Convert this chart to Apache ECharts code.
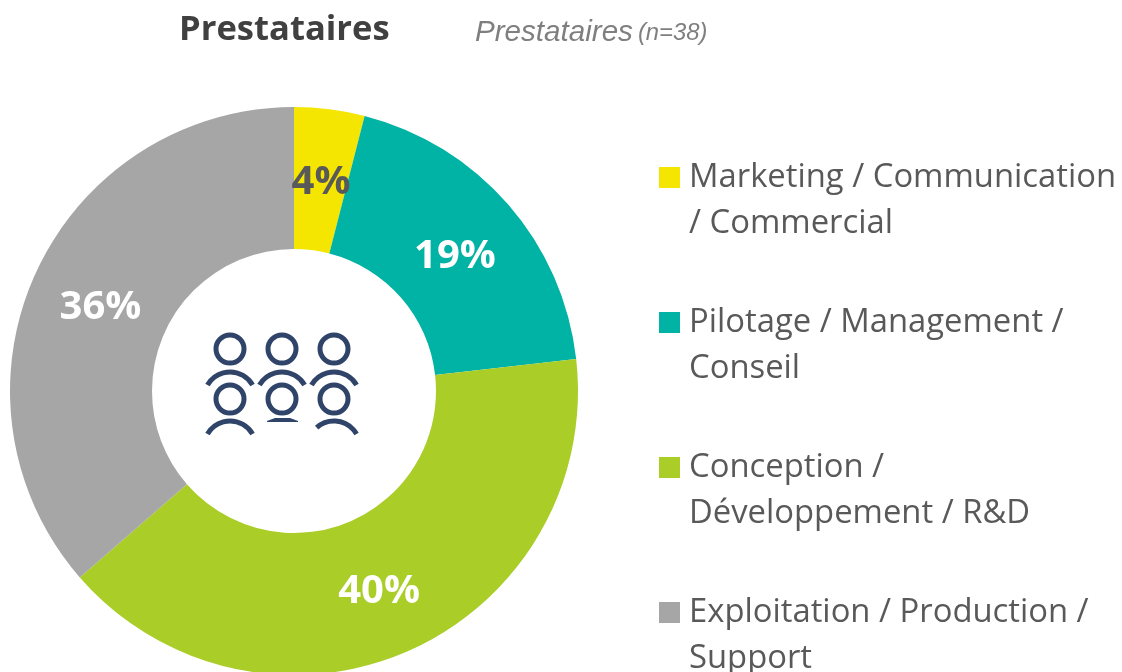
<!DOCTYPE html>
<html>
<head>
<meta charset="utf-8">
<title>Prestataires</title>
<style>
  html, body { margin: 0; padding: 0; background: #fff; }
  #chart { width: 1122px; height: 672px; }
</style>
<script src="https://cdn.jsdelivr.net/npm/echarts@6/dist/echarts.min.js"></script>
</head>
<body>
<div id="chart"></div>
<script>
const categories = [
  'Marketing / Communication\n/ Commercial',
  'Pilotage / Management /\nConseil',
  'Conception /\nDéveloppement / R&D',
  'Exploitation / Production /\nSupport'
];
// the labels show them rounded
const values = [4, 19.2, 40.4, 36.4];
const colors = ['#f4e600', '#00b3a4', '#aacd28', '#a6a6a6'];
const labelColors = ['#595959', '#ffffff', '#ffffff', '#ffffff'];
const labelOffsets = [[0, 6], [-2, 7], [-2, 3], [3, 6]];

const iconColor = '#2f4468';
const font = '"Open Sans", sans-serif';

// legend square sits level with the first text line, the empty moves keep the box 25x92
const legendIcon = 'path://M0,12H21V33H0Z M25,0h0 M25,92h0 M0,0h0 M0,92h0';

// people icon in the middle of the ring
function head(cx, cy) {
  return {
    type: 'circle',
    shape: { cx: cx, cy: cy, r: 14 },
    style: { fill: 'none', stroke: iconColor, lineWidth: 5 }
  };
}
function shoulders(cx, cy, start, end) {
  return {
    type: 'arc',
    shape: { cx: cx, cy: cy, r: 26, startAngle: start, endAngle: end, clockwise: true },
    style: { fill: 'none', stroke: iconColor, lineWidth: 5 }
  };
}
const iconParts = [
  head(230, 349), head(282, 349), head(334, 349),
  head(230, 399), head(282, 399), head(334, 399),
  shoulders(230, 398, -2.62, -0.52),
  shoulders(282, 398, -2.62, -0.52),
  shoulders(334, 398, -2.62, -0.52),
  shoulders(230, 447, -2.62, -0.52),
  shoulders(334, 447, -2.3, -0.52),
  {
    type: 'polygon',
    shape: { points: [[267, 421], [275, 418], [290, 418], [298, 421], [298, 422], [267, 422]] },
    style: { fill: iconColor }
  }
];

const chart = echarts.init(document.getElementById('chart'), null, { renderer: 'canvas' });
chart.setOption({
  animation: false,
  title: [
    {
      text: 'Prestataires',
      left: 179,
      top: 7,
      padding: 0,
      textStyle: { fontFamily: font, fontSize: 34.6, fontWeight: 'bold', color: '#404040', lineHeight: 46 }
    },
    {
      text: '{a|Prestataires} {b|(n=38)}',
      left: 475,
      top: 18,
      padding: 0,
      textStyle: {
        fontWeight: 'normal',
        rich: {
          a: { fontFamily: 'Liberation Sans', fontSize: 29.6, fontStyle: 'italic', fontWeight: 'normal', color: '#7f7f7f' },
          b: { fontFamily: 'Liberation Sans', fontSize: 23.8, fontStyle: 'italic', fontWeight: 'normal', color: '#7f7f7f' }
        }
      }
    }
  ],
  legend: {
    orient: 'vertical',
    left: 659,
    top: 155,
    height: 720,
    padding: 0,
    itemWidth: 25,
    itemHeight: 92,
    itemGap: 53,
    icon: legendIcon,
    selectedMode: false,
    data: categories,
    textStyle: {
      fontFamily: font,
      fontSize: 32.8,
      lineHeight: 46,
      color: '#595959'
    }
  },
  graphic: { elements: iconParts },
  series: [
    {
      type: 'pie',
      center: [294, 391],
      radius: [142, 284],
      startAngle: 90,
      clockwise: true,
      avoidLabelOverlap: false,
      data: categories.map(function (name, i) {
        return {
          name: name,
          value: values[i],
          itemStyle: { color: colors[i] },
          label: { color: labelColors[i], offset: labelOffsets[i] }
        };
      }),
      label: {
        show: true,
        position: 'inside',
        formatter: function (p) { return Math.round(p.value) + '%'; },
        fontFamily: font,
        fontSize: 40,
        fontWeight: 'bold'
      },
      labelLine: { show: false },
      emphasis: { disabled: true }
    }
  ]
});
</script>
</body>
</html>
